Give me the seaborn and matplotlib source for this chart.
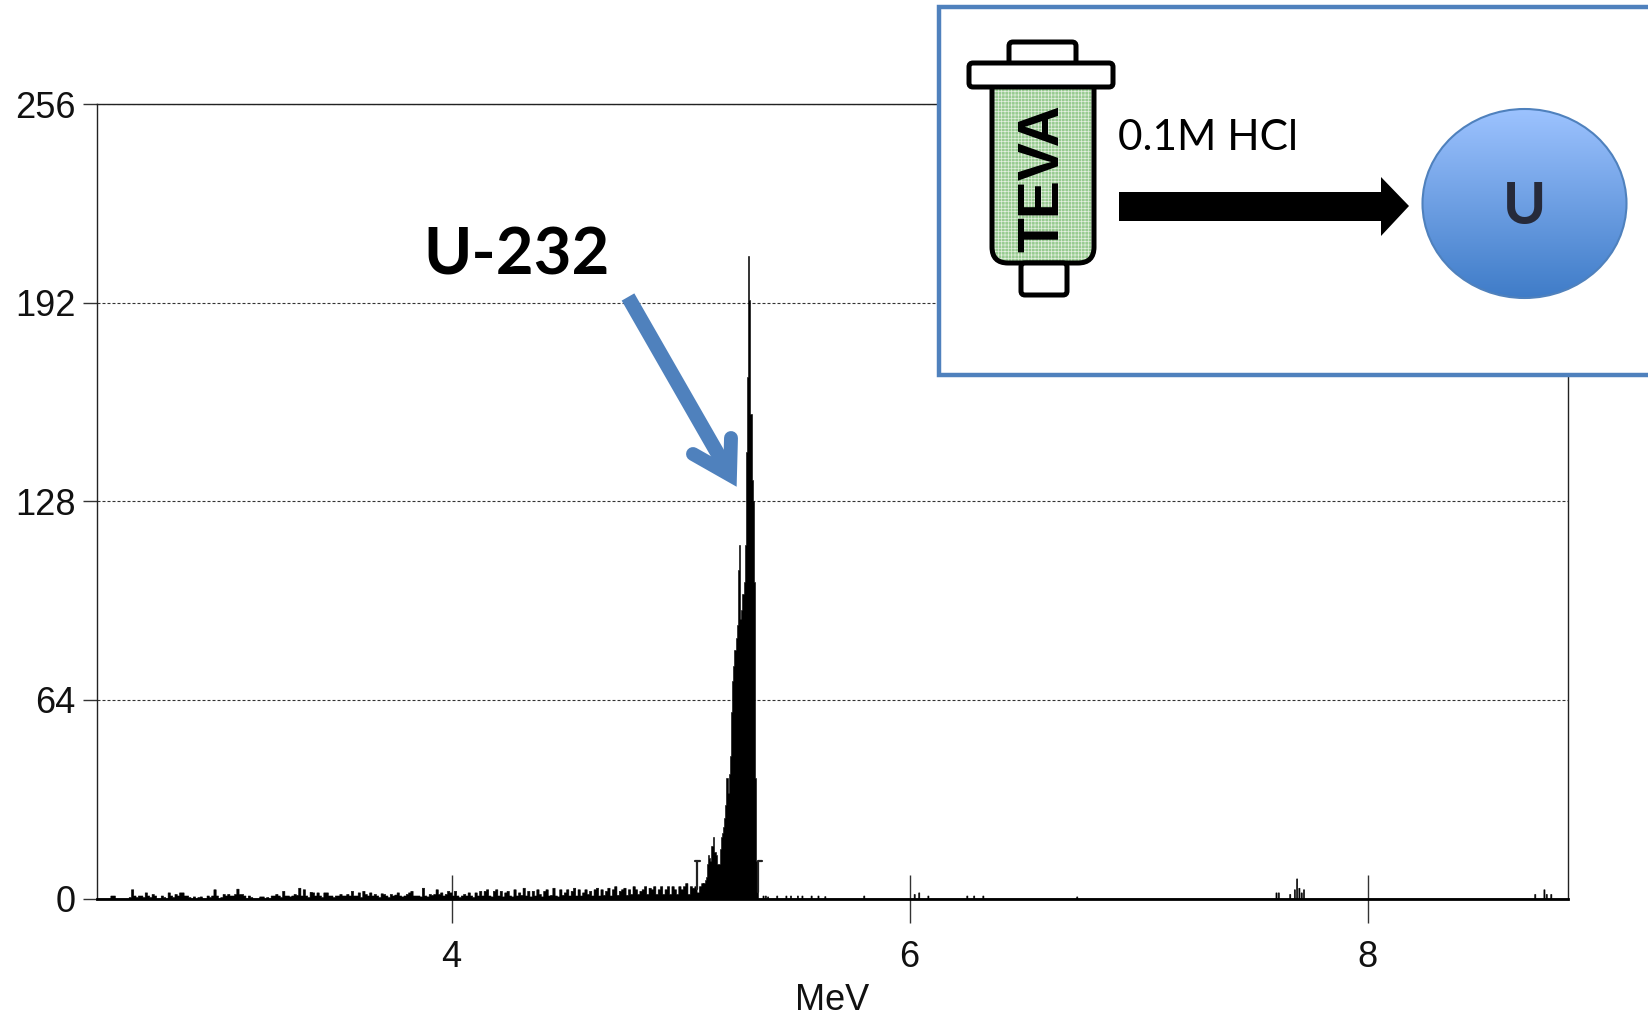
"""U-232 alpha spectrum after TEVA separation, with the column scheme inset."""
import numpy as np
import matplotlib
matplotlib.use('Agg')
import matplotlib.pyplot as plt
from matplotlib.patches import Rectangle, FancyBboxPatch, Polygon, Ellipse
import seaborn as sns

# channel counts
low_start = 2.45
low_width = 0.01
low_counts = [
    0, 0, 0, 0, 0, 0, 1, 1, 0, 0,
    0, 0, 0, 0, 0.5, 3, 1, 0.5, 1, 1,
    0.5, 2, 1, 0.5, 1.5, 1, 0, 0, 1, 0.5,
    0, 2, 1, 0.5, 1.5, 1, 2, 2, 1, 1,
    0.5, 0, 0.7, 0, 0.5, 0.7, 0, 0, 1, 0.5,
    1, 3, 1, 0, 0.5, 1.5, 1, 1.5, 1, 1,
    1.5, 3.2, 1.5, 1.5, 1, 0, 1, 0.5, 0, 0,
    0, 0.7, 0.7, 0, 0.5, 0, 1, 1, 1.5, 1,
    0.5, 2.5, 1, 1, 0.7, 1, 1.5, 1.2, 3.5, 1,
    3, 1, 0.5, 2.2, 2, 1, 2, 1, 0.5, 2,
    2, 1, 1, 0.5, 1, 1, 1.5, 1, 1, 1.5,
    1, 2.5, 1, 1, 2, 0.5, 2.5, 1.5, 1, 2,
    1, 1.5, 1, 0.5, 1.7, 1.5, 1, 0.5, 1.5, 1,
    1.3, 2, 1, 0.7, 1, 1.5, 2, 2.5, 1, 1,
    1, 0.7, 3.5, 1, 0.7, 1.5, 1.2, 1.5, 3, 1.5,
    2, 1, 1.5, 2.5, 2, 1, 2.5, 1, 0.5, 1,
    1.5, 1, 2, 1, 0.5, 2, 1, 2.5, 1, 2.5,
    3, 1, 0.7, 2.5, 3, 1, 2.5, 0.7, 2, 2.5,
    1, 0.7, 3, 1, 2, 1.2, 3.5, 1, 2.5, 0.7,
    2.5, 1, 3, 1.5, 0.7, 2.5, 3, 1, 1.2, 3.5,
    1, 0.7, 3, 1.2, 2, 3, 1, 2.5, 3.5, 1,
    3, 1, 2, 3, 1.5, 2.5, 1, 3, 3.5, 1,
    3, 1.2, 2.5, 3.5, 1, 3, 4, 1.2, 2.5, 3,
    3.5, 1.2, 3, 1.5, 4, 3, 1.5, 2.5, 3, 4,
    1.5, 3.5, 3, 4, 1.5, 3, 4, 1.5, 3, 4,
    1.5, 4, 3, 1.5, 4, 3, 4, 5, 1.5, 4,
    3.5, 4, 2, 4, 5,
]

peak_start = 5.10
peak_width = 0.005
peak_counts = [
    5, 6, 7, 11, 14, 13, 12, 17, 20, 15,
    15, 14, 11, 11, 16, 20, 21, 23, 26, 30,
    39, 34, 40, 46, 60, 70, 75, 80, 84, 88,
    106, 114, 90, 93, 98, 102, 114, 144, 168, 207,
    193, 156, 135, 128, 102, 39, 12, 3,
]

tail_energy = [5.36, 5.37, 5.38, 5.42, 5.46, 5.48, 5.51, 5.53, 5.57, 5.60, 5.63, 5.80,
               6.02, 6.04, 6.08, 6.25, 6.28, 6.32, 6.73,
               7.60, 7.61, 7.66, 7.68, 7.69, 7.70, 7.71, 7.72,
               8.73, 8.77, 8.78, 8.80]
tail_counts = [1, 1, 0.7, 1, 1, 1, 1, 1, 1, 1, 0.8, 1,
               1.5, 2, 1, 1, 1, 1, 0.7,
               2, 2, 1.5, 3, 6.5, 3.5, 2, 3,
               1.5, 3, 1.5, 1.5]

# little region-of-interest markers either side of the peak
roi_left_x = [5.062, 5.084, None, 5.073, 5.073]
roi_left_y = [12, 12, None, 12, 3]
roi_right_x = [5.357, 5.339, 5.339]
roi_right_y = [12, 12, 2]

y_ticks = [0, 64, 128, 192, 256]
x_ticks = [4, 6, 8]

BLUE = '#4F81BD'

sns.set_theme(style='ticks')
plt.rcParams['font.family'] = ['Liberation Sans', 'DejaVu Sans']

W, H = 1648, 1018
fig = plt.figure(figsize=(W / 100, H / 100), dpi=100, facecolor='white')
left, right, top, bottom = 96.6, 1568, 104, 898.6
ax = fig.add_axes([left / W, 1 - bottom / H, (right - left) / W, (bottom - top) / H])


def draw_spectrum(start, width, counts):
    edges = start + width * np.arange(len(counts) + 1)
    sns.histplot(x=edges[:-1] + width / 2, weights=counts, bins=list(edges), element='step',
                 fill=True, color='black', alpha=1, linewidth=0.4, ax=ax)


draw_spectrum(low_start, low_width, low_counts)
draw_spectrum(peak_start, peak_width, peak_counts)
tail_edges = 5.3375 + 0.005 * np.arange(710)
sns.histplot(x=tail_energy, weights=tail_counts, bins=list(tail_edges), element='step',
             fill=True, color='black', alpha=1, linewidth=0.4, ax=ax)
ax.plot(roi_left_x, roi_left_y, color='#222222', lw=1.6)
ax.plot(roi_right_x, roi_right_y, color='#222222', lw=1.6)

ax.set_xlim(2.45, 8.875)
ax.set_ylim(0, 256)
ax.set_xticks(x_ticks)
ax.set_yticks(y_ticks)
ax.tick_params(axis='x', direction='inout', length=35, width=1, color='#333333',
               labelsize=26, pad=12, labelcolor='#111111')
ax.tick_params(axis='y', direction='out', length=10, width=1, color='#333333',
               labelsize=26, pad=5, labelcolor='#111111')
ax.set_xlabel('MeV', fontsize=26, labelpad=6, color='#111111')
ax.set_ylabel('')
ax.yaxis.grid(True, color='#333333', linestyle=(0, (2.7, 1.8)), linewidth=0.8)
ax.set_axisbelow(True)
for side in ['left', 'right', 'top']:
    ax.spines[side].set_linewidth(1)
    ax.spines[side].set_color('#222222')
ax.spines['bottom'].set_linewidth(2)
ax.spines['bottom'].set_color('black')

# everything below sits on a pixel-coordinate layer over the chart
ov = fig.add_axes([0, 0, 1, 1], zorder=5)
ov.set_xlim(0, W)
ov.set_ylim(H, 0)
ov.axis('off')
ov.patch.set_alpha(0)

ov.text(423, 256, 'U-232', fontsize=47, fontweight='bold', family='Lato',
        color='black', va='center', ha='left')

# blue callout arrow
ov.plot([628, 730], [297, 475], color=BLUE, lw=10.5, solid_capstyle='butt')
ov.plot([731, 730, 693], [438, 475, 454], color=BLUE, lw=10,
        solid_capstyle='round', solid_joinstyle='miter')

# inset panel, runs off the right side
ov.add_patch(Rectangle((939, 7), 760, 368, facecolor='white', edgecolor=BLUE, lw=3.2))

# column body
plt.rcParams['hatch.linewidth'] = 0.5
ov.add_patch(FancyBboxPatch((992, 70), 102, 193, boxstyle='round,pad=0,rounding_size=16',
                            facecolor='#97CB90', edgecolor='#E4EFE0', hatch='+++++', lw=0))
ov.add_patch(FancyBboxPatch((992, 70), 102, 193, boxstyle='round,pad=0,rounding_size=16',
                            facecolor='none', edgecolor='black', lw=3.6))
ov.add_patch(FancyBboxPatch((1009, 42), 67, 23, boxstyle='round,pad=0,rounding_size=4',
                            facecolor='white', edgecolor='black', lw=3.6))
ov.add_patch(FancyBboxPatch((1021, 263), 46, 32, boxstyle='round,pad=0,rounding_size=4',
                            facecolor='white', edgecolor='black', lw=3.6))
ov.add_patch(FancyBboxPatch((969, 63), 144, 24, boxstyle='round,pad=0,rounding_size=4',
                            facecolor='white', edgecolor='black', lw=3.6))
ov.text(1043, 178, 'TEVA', rotation=90, fontsize=41, fontweight='bold',
        color='black', ha='center', va='center')

ov.text(1118, 138, '0.1M HCl', fontsize=30.5, family='Lato', color='black',
        ha='left', va='center')
ov.add_patch(Polygon([(1119, 192), (1381, 192), (1381, 177), (1409, 206), (1381, 236),
                      (1381, 221), (1119, 221)], closed=True, facecolor='black', edgecolor='none'))

# uranium fraction, filled with a vertical gradient
grad = np.linspace(0, 1, 256).reshape(-1, 1)
cmap = matplotlib.colors.LinearSegmentedColormap.from_list('u_fill', ['#9DC3FF', '#3F7CC8'])
img = ov.imshow(grad, cmap=cmap, extent=(1422, 1627, 298, 108), aspect='auto', zorder=3)
circle = Ellipse((1524.5, 203.5), 204, 189, facecolor='none', edgecolor=BLUE, lw=1.5, zorder=4)
ov.add_patch(circle)
img.set_clip_path(circle)
ov.set_xlim(0, W)
ov.set_ylim(H, 0)
ov.text(1524.5, 207, 'U', fontsize=42, fontweight='bold', family='Lato', color='#262A3A',
        ha='center', va='center', zorder=5)

fig.savefig('out.png', dpi=100)
